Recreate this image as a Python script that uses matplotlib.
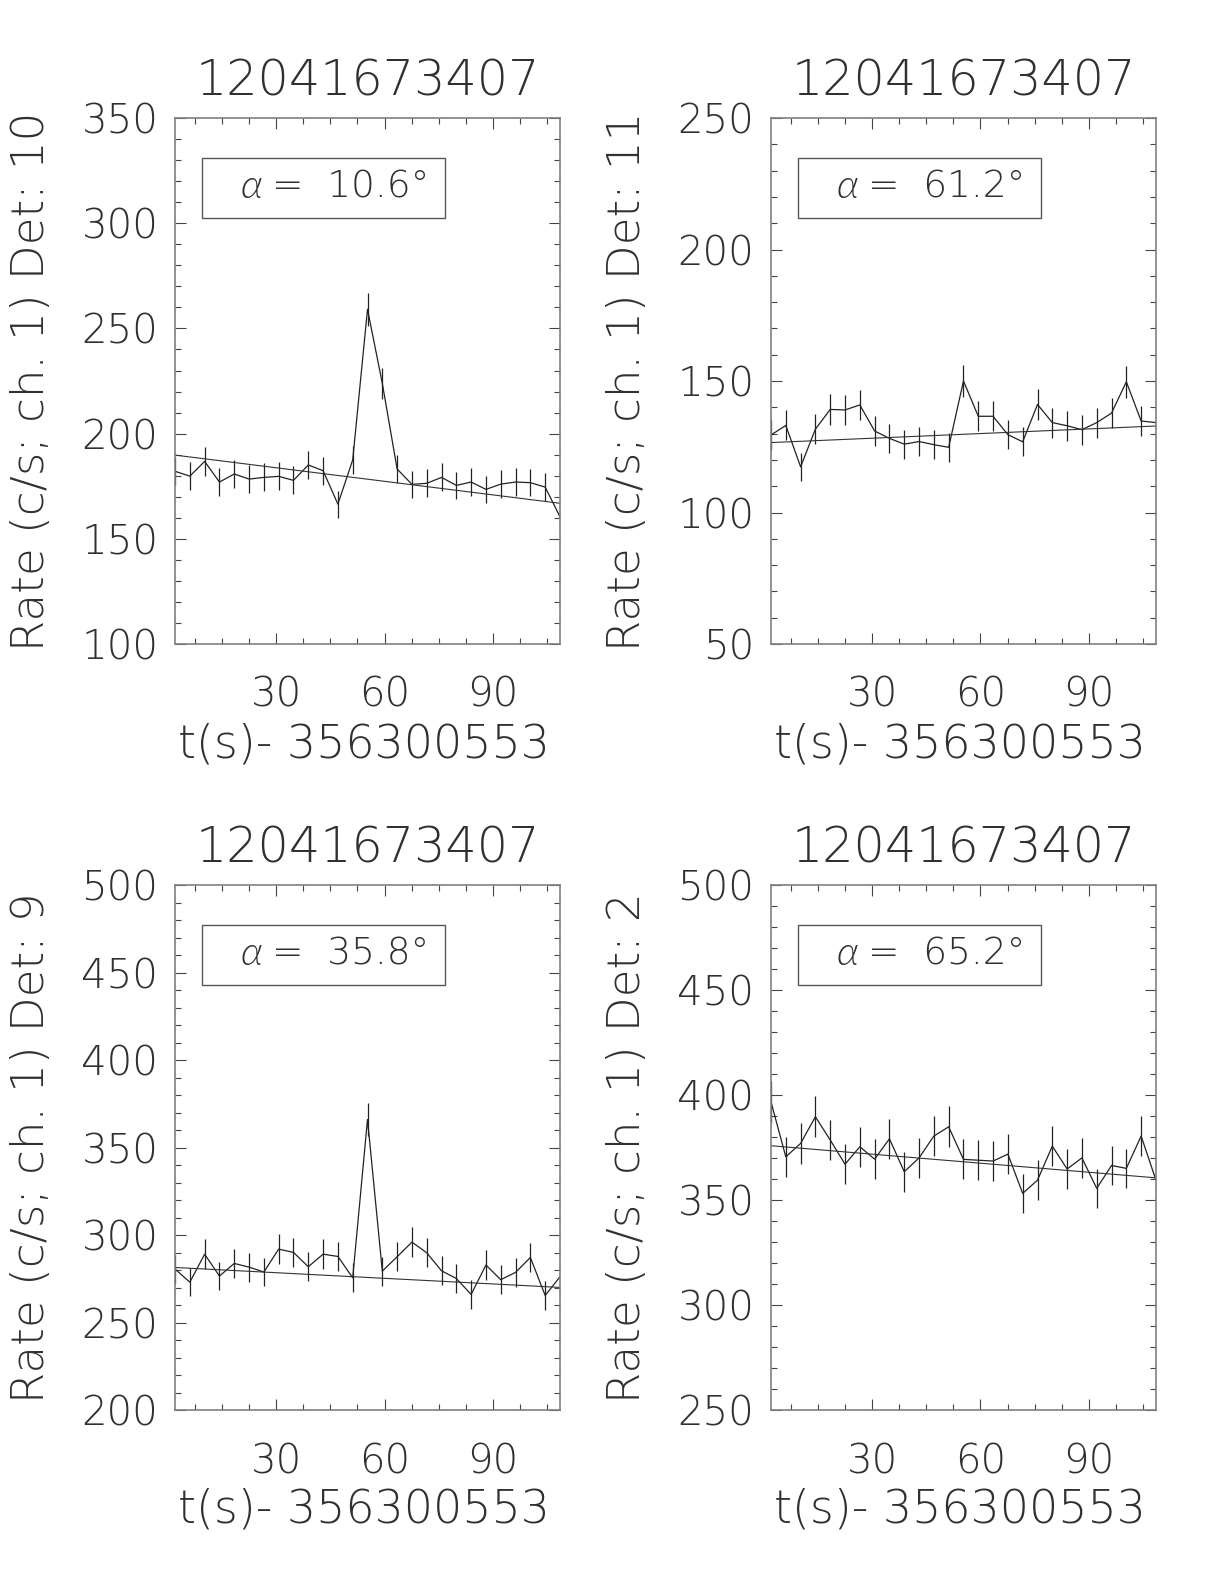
import numpy as np
import matplotlib
matplotlib.use("Agg")
import matplotlib.pyplot as plt
from matplotlib import font_manager as fm
from matplotlib.patches import Rectangle

# time bins (s after 356300553), 4.096 s bins
dt = 4.096
t = 2.048 + dt * np.arange(27)

title = "12041673407"
xlab = "t(s)- 356300553"

# det 10
rate_d10 = [182.1, 179.8, 186.8, 177.0, 180.8, 178.4, 179.2, 179.7, 177.8, 185.1,
            182.4, 166.5, 187.5, 259.1, 223.9, 183.2, 175.9, 176.4, 179.2, 175.4,
            177.0, 173.5, 176.0, 177.0, 176.7, 174.6, 160.5]
fit_d10 = [189.8, 166.9]
# det 11
rate_d11 = [129.5, 133.1, 117.4, 131.7, 139.2, 139.0, 140.9, 131.0, 128.2, 126.0,
            127.0, 125.8, 124.8, 150.0, 136.6, 136.6, 129.6, 126.9, 141.1, 134.2,
            133.0, 131.5, 134.2, 137.8, 149.7, 134.8, 134.2]
fit_d11 = [126.6, 132.9]
# det 9
rate_d9 = [280.6, 273.1, 289.1, 276.6, 283.8, 281.7, 278.9, 292.0, 290.1, 281.9,
           289.1, 287.8, 275.6, 366.1, 279.4, 287.6, 296.0, 289.9, 279.6, 275.2,
           266.1, 282.9, 274.5, 278.7, 287.2, 265.5, 276.2]
fit_d9 = [281.5, 270.1]
# det 2
rate_d2 = [396.8, 370.6, 377.0, 389.7, 378.6, 367.1, 375.4, 369.5, 379.2, 363.5,
           370.1, 380.5, 384.9, 369.4, 369.0, 368.6, 371.9, 353.2, 359.5, 375.7,
           364.8, 370.1, 355.6, 366.5, 365.1, 380.5, 359.5]
fit_d2 = [375.9, 360.6]

panels = [
    # det, angle, rates, fit, ylim, position
    ("10", "10.6", rate_d10, fit_d10, (100, 350), [0.1430, 0.5934, 0.3145, 0.3321]),
    ("11", "61.2", rate_d11, fit_d11, (50, 250), [0.6299, 0.5934, 0.3145, 0.3321]),
    ("9", "35.8", rate_d9, fit_d9, (200, 500), [0.1430, 0.1098, 0.3145, 0.3314]),
    ("2", "65.2", rate_d2, fit_d2, (250, 500), [0.6299, 0.1098, 0.3145, 0.3314]),
]


def pick_font(style, target):
    best = None
    for fam in ["DejaVu Sans", "Lato", "Roboto", "Inter", "Open Sans", "Noto Sans"]:
        for f in fm.fontManager.ttflist:
            if f.name != fam or f.style != style:
                continue
            w = f.weight if isinstance(f.weight, int) else fm.weight_dict.get(f.weight, 400)
            score = abs(w - target)
            if best is None or score < best[0]:
                best = (score, f.fname)
        if best is not None and best[0] <= 50:
            return fm.FontProperties(fname=best[1])
    if best is not None:
        return fm.FontProperties(fname=best[1])
    return fm.FontProperties(family="DejaVu Sans")


fp = pick_font("normal", 200)
fpi = pick_font("italic", 300)
tcol = "#303030"

fig = plt.figure(figsize=(12.24, 15.84), dpi=100)

for det, ang, rate, fit, ylim, pos in panels:
    ax = fig.add_axes(pos)
    rate = np.array(rate)
    err = np.sqrt(rate / dt)
    ax.vlines(t, rate - err, rate + err, color="#222222", lw=0.9)
    ax.plot(t, rate, color="#222222", lw=0.9)
    ax.plot([t[0], t[-1]], fit, color="#333333", lw=0.8)
    ax.set_xlim(t[0], t[-1])
    ax.set_ylim(*ylim)
    ax.set_xticks([30, 60, 90])
    ax.set_xticks(np.arange(7.5, 108, 7.5), minor=True)
    ax.set_yticks(np.arange(ylim[0], ylim[1] + 1, 50))
    ax.set_yticks(np.arange(ylim[0], ylim[1] + 1, 10), minor=True)
    ax.tick_params(which="both", direction="in", top=True, right=True,
                   color="#444444", width=0.8)
    ax.tick_params(which="major", length=8)
    ax.tick_params(which="minor", length=4)
    ax.tick_params(axis="x", pad=23)
    ax.tick_params(axis="y", pad=12)
    for lab in ax.get_xticklabels() + ax.get_yticklabels():
        lab.set_fontproperties(fp)
        lab.set_fontsize(29)
        lab.set_color(tcol)
    for sp in ax.spines.values():
        sp.set_color("#808080")
        sp.set_linewidth(1.2)

    ax.text(0.5, 1.07, title, transform=ax.transAxes, ha="center", va="center",
            fontproperties=fp, fontsize=35.5, color=tcol)
    ax.text(0.49, -0.19, xlab, transform=ax.transAxes, ha="center", va="center",
            fontproperties=fp, fontsize=33, color=tcol)
    ax.text(-0.372, 0.5, "Rate (c/s; ch. 1) Det: " + det, transform=ax.transAxes,
            ha="center", va="center", rotation=90, fontproperties=fp,
            fontsize=32.5, color=tcol)

    ax.add_patch(Rectangle((0.070, 0.810), 0.631, 0.114, transform=ax.transAxes,
                           fill=False, edgecolor="#555555", lw=1.0))
    ax.text(0.228, 0.869, "\u03b1", transform=ax.transAxes, ha="right", va="center",
            fontproperties=fpi, fontsize=29, color=tcol)
    ax.text(0.252, 0.869, "=  " + ang + "\u00b0", transform=ax.transAxes, ha="left",
            va="center", fontproperties=fp, fontsize=27, color=tcol)

fig.savefig("out.png", dpi=100)
